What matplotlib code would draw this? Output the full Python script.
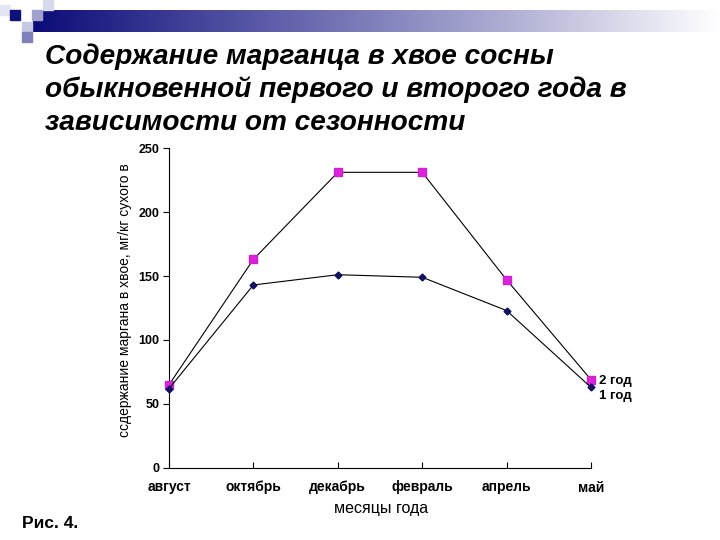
import numpy as np
import matplotlib
matplotlib.use("Agg")
import matplotlib.pyplot as plt
from matplotlib.patches import Rectangle

months = ["август", "октябрь", "декабрь", "февраль", "апрель", "май"]
year2 = [65, 163, 231, 231, 147, 69]
year1 = [62, 143, 151, 149, 123, 63]
yticks = [0, 50, 100, 150, 200, 250]
title_lines = [
    "Содержание марганца в хвое сосны",
    "обыкновенной первого и второго года в",
    "зависимости от сезонности",
]

plt.rcParams["font.family"] = ["Liberation Sans", "DejaVu Sans"]

fig = plt.figure(figsize=(7.2, 5.4), dpi=100)

# header decoration: gradient bar and squares
bar = fig.add_axes([33 / 720, 1 - 32 / 540, 687 / 720, 22 / 540])
grad = np.linspace(0, 1, 256).reshape(1, -1)
cmap = matplotlib.colors.LinearSegmentedColormap.from_list(
    "hdr", ["#0c0c78", "#5a5aa8", "#a8a8d0", "#ffffff"])
bar.imshow(grad, aspect="auto", cmap=cmap, extent=[0, 1, 0, 1])
bar.axis("off")

squares = [
    (0, 5, "#e4e4f2"), (10, 10, "#10107a"), (22, 22, "#c8c8e4"),
    (32, 10, "#a0a0cc"), (22, 32, "#8080bc"), (43, 0, "#d8d8ec"),
]
for sx, sy, c in squares:
    fig.patches.append(Rectangle((sx / 720, 1 - (sy + 10) / 540), 10 / 720, 10 / 540,
                                 transform=fig.transFigure, color=c, zorder=3))

for i, line in enumerate(title_lines):
    fig.text(45 / 720, 1 - (57 + 33 * i) / 540, line,
             fontsize=20.2, fontweight="bold", fontstyle="italic",
             va="center", ha="left")

ax = fig.add_axes([169 / 720, 1 - 468 / 540, 422 / 720, 320 / 540])
x = np.arange(len(months))
ax.plot(x, year2, color="black", lw=0.8, marker="s", ms=6,
        mfc="#dd22dd", mec="#cc22cc", clip_on=False, zorder=3)
ax.plot(x, year1, color="black", lw=0.8, marker="D", ms=3.5,
        mfc="#101060", mec="#101060", clip_on=False, zorder=3)

ax.set_xlim(0, len(months) - 1)
ax.set_ylim(0, 250)
ax.set_xticks(x)
ax.set_xticklabels(months, fontsize=10, fontweight="bold")
ax.set_yticks(yticks)
ax.set_yticklabels([str(v) for v in yticks], fontsize=9, fontweight="bold")
ax.tick_params(axis="x", direction="in", length=4, pad=9)
ax.tick_params(axis="y", direction="out", length=4, pad=3)
for s in ["top", "right"]:
    ax.spines[s].set_visible(False)

ax.annotate("2 год", (x[-1], year2[-1]), xytext=(6, -1), textcoords="offset points",
            fontsize=9.5, fontweight="bold", va="center", annotation_clip=False)
ax.annotate("1 год", (x[-1], year1[-1]), xytext=(6, -6), textcoords="offset points",
            fontsize=9.5, fontweight="bold", va="center", annotation_clip=False)

fig.text(381 / 720, 1 - 508 / 540, "месяцы года", fontsize=11.5,
         ha="center", va="center")
fig.text(125 / 720, 1 - 300 / 540, "ссдержание маргана в хвое, мг/кг сухого в",
         fontsize=10, rotation=90, ha="center", va="center")

fig.text(22 / 720, 1 - 523 / 540, "Рис. 4.", fontsize=12.5, fontweight="bold",
         ha="left", va="center")

fig.savefig("out.png", dpi=100)
